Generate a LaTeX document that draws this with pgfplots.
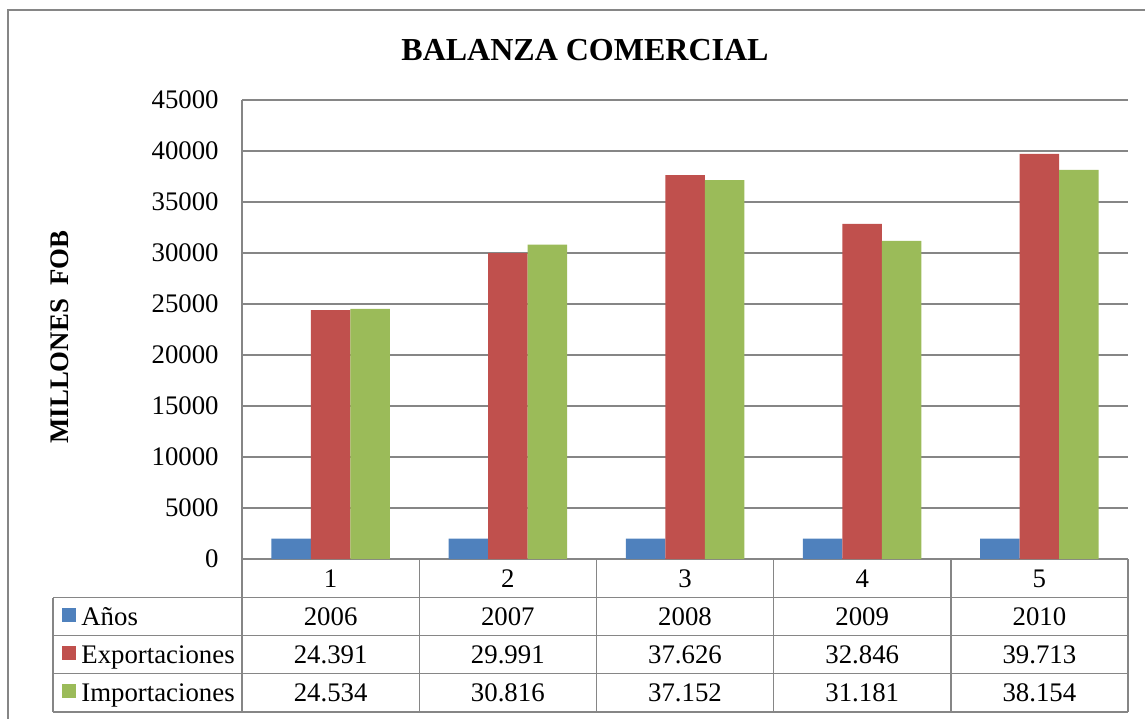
\documentclass[border=0pt]{standalone}
\usepackage{fontspec}
\setmainfont{Liberation Serif}
\usepackage{pgfplots}
\pgfplotsset{compat=1.18}

\definecolor{serA}{HTML}{4F81BD}
\definecolor{serB}{HTML}{C0504D}
\definecolor{serC}{HTML}{9BBB59}
\definecolor{lin}{HTML}{868686}
\newcommand{\tf}{\fontsize{13.4}{15}\selectfont}

\begin{document}
\begin{tikzpicture}[x=0.5pt,y=-0.5pt]
\useasboundingbox (0,0) rectangle (1145,718);
% outer frame (right and bottom edges fall outside)
\draw[lin, line width=0.7pt] (8,722) -- (8,10) -- (1150,10);

\node[font=\fontsize{16}{18}\selectfont\bfseries] at (585,50) {BALANZA COMERCIAL};
\node[font=\tf\bfseries, rotate=90] at (60,337) {MILLONES\ \ FOB};
\coordinate (ax) at (242,559);

\begin{scope}[x=1pt,y=1pt]
\begin{axis}[
    at={(ax)}, anchor=south west,
    scale only axis, width=443pt, height=229.5pt,
    xmin=0.5, xmax=5.5, ymin=0, ymax=45000,
    ybar=0pt, bar width=19.75pt,
    axis x line*=bottom, axis y line*=left,
    axis line style={lin, line width=0.7pt, -},
    xtick=\empty, ytick={0,5000,...,45000},
    ymajorgrids, grid style={lin, line width=0.7pt},
    major tick length=0pt,
    scaled y ticks=false,
    yticklabel style={font=\tf, inner sep=0pt, xshift=-11.5pt,
        /pgf/number format/1000 sep={}},
    /pgf/number format/assume math mode=true,
    clip=false,
]
\addplot[fill=serA, draw=none] coordinates {(1,2006) (2,2007) (3,2008) (4,2009) (5,2010)};
\addplot[fill=serB, draw=none] coordinates {(1,24391) (2,29991) (3,37626) (4,32846) (5,39713)};
\addplot[fill=serC, draw=none] coordinates {(1,24534) (2,30816) (3,37152) (4,31181) (5,38154)};
\end{axis}
\end{scope}

% data table
\begin{scope}[lin, line width=0.7pt]
\foreach \yy in {597.5,635.5,673.5,712} \draw (53,\yy) -- (1128,\yy);
\draw (53,597.5) -- (53,712);
\foreach \xx in {242,419.2,596.4,773.6,950.8,1128} \draw (\xx,559) -- (\xx,712);
\end{scope}

\foreach \lab [count=\i] in {1,2,3,4,5}
  \node[font=\tf, anchor=base] at ({242+177.2*(\i-0.5)},587) {\lab};
\foreach \lab [count=\i] in {2006,2007,2008,2009,2010}
  \node[font=\tf, anchor=base] at ({242+177.2*(\i-0.5)},625.5) {\lab};
\foreach \lab [count=\i] in {24.391,29.991,37.626,32.846,39.713}
  \node[font=\tf, anchor=base] at ({242+177.2*(\i-0.5)},663.5) {\lab};
\foreach \lab [count=\i] in {24.534,30.816,37.152,31.181,38.154}
  \node[font=\tf, anchor=base] at ({242+177.2*(\i-0.5)},701.5) {\lab};

\fill[serA] (62,608) rectangle (76,622);
\fill[serB] (62,646) rectangle (76,660);
\fill[serC] (62,684) rectangle (76,698);
\node[font=\tf, anchor=base west, inner sep=0pt] at (81,625.5) {Años};
\node[font=\tf, anchor=base west, inner sep=0pt] at (81,663.5) {Exportaciones};
\node[font=\tf, anchor=base west, inner sep=0pt] at (81,701.5) {Importaciones};
\end{tikzpicture}
\end{document}
